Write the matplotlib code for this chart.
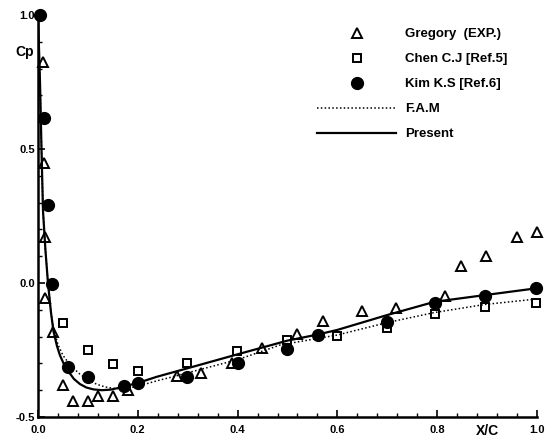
import matplotlib
matplotlib.use("Agg")
import matplotlib.pyplot as plt
from matplotlib.ticker import MultipleLocator

plt.rcParams['font.family'] = ['Liberation Sans', 'DejaVu Sans']

# Gregory (EXP.) - open triangles
greg_x = [0.01, 0.012, 0.014, 0.014, 0.031, 0.051, 0.071, 0.101, 0.121, 0.151, 0.181,
          0.278, 0.327, 0.389, 0.449, 0.519, 0.571, 0.65, 0.717, 0.816, 0.847, 0.898,
          0.96, 1.0]
greg_y = [0.825, 0.448, 0.172, -0.056, -0.182, -0.381, -0.439, -0.439, -0.42, -0.42,
          -0.399, -0.347, -0.335, -0.297, -0.244, -0.19, -0.14, -0.105, -0.092, -0.047,
          0.063, 0.101, 0.173, 0.191]

# Chen C.J - open squares
chen_x = [0.051, 0.101, 0.151, 0.201, 0.299, 0.399, 0.499, 0.60, 0.699, 0.795, 0.896, 0.998]
chen_y = [-0.15, -0.25, -0.302, -0.327, -0.298, -0.253, -0.213, -0.197, -0.169, -0.117,
          -0.088, -0.074]

# Kim K.S - filled circles
kim_x = [0.004, 0.012, 0.02, 0.0275, 0.061, 0.101, 0.173, 0.201, 0.299, 0.40, 0.499,
         0.561, 0.699, 0.795, 0.896, 0.998]
kim_y = [1.0, 0.616, 0.291, -0.005, -0.312, -0.35, -0.384, -0.374, -0.352, -0.297,
         -0.247, -0.194, -0.144, -0.076, -0.049, -0.02]

# F.A.M - dotted line
fam_x = [0.0, 0.004, 0.007, 0.01, 0.015, 0.02, 0.026, 0.031, 0.04, 0.05, 0.066, 0.084,
         0.1, 0.118, 0.135, 0.151, 0.168, 0.185, 0.21, 0.238, 0.27, 0.3, 0.4, 0.486, 0.6,
         0.699, 0.795, 0.896, 0.998]
fam_y = [1.0, 0.75, 0.5, 0.27, 0.12, 0.0, -0.11, -0.17, -0.23, -0.27, -0.31, -0.34,
         -0.362, -0.378, -0.388, -0.393, -0.394, -0.391, -0.38, -0.365, -0.35, -0.335,
         -0.286, -0.231, -0.194, -0.148, -0.11, -0.08, -0.06]

# Present - solid line
pre_x = [0.0, 0.004, 0.007, 0.01, 0.015, 0.02, 0.026, 0.031, 0.038, 0.044, 0.052, 0.061,
         0.072, 0.084, 0.097, 0.111, 0.128, 0.145, 0.158, 0.171, 0.185, 0.2, 0.238, 0.3,
         0.4, 0.5, 0.561, 0.6, 0.699, 0.795, 0.896, 0.998]
pre_y = [1.0, 0.75, 0.5, 0.27, 0.12, 0.0, -0.11, -0.18, -0.235, -0.27, -0.303, -0.33,
         -0.358, -0.377, -0.39, -0.397, -0.4, -0.398, -0.393, -0.387, -0.38, -0.373,
         -0.35, -0.318, -0.266, -0.215, -0.192, -0.175, -0.12, -0.07, -0.045, -0.02]

fig = plt.figure(figsize=(5.46, 4.41), dpi=100)
ax = fig.add_axes([38 / 546, 1 - 417 / 441, (537 - 38) / 546, (417 - 15) / 441])

ax.plot(greg_x, greg_y, linestyle='none', marker='^', markersize=6.5, markerfacecolor='white',
        markeredgecolor='black', markeredgewidth=1.4, label='Gregory  (EXP.)', clip_on=False)
ax.plot(chen_x, chen_y, linestyle='none', marker='s', markersize=6, markerfacecolor='white',
        markeredgecolor='black', markeredgewidth=1.4, label='Chen C.J [Ref.5]', clip_on=False)
ax.plot(kim_x, kim_y, linestyle='none', marker='o', markersize=8.5, color='black',
        label='Kim K.S [Ref.6]', clip_on=False)
ax.plot(fam_x, fam_y, color='black', linestyle=(0, (1, 1.5)), linewidth=1.1, label='F.A.M')
ax.plot(pre_x, pre_y, color='black', linestyle='-', linewidth=1.6, label='Present')

ax.set_xlim(0, 1.0)
ax.set_ylim(-0.5, 1.0)
ax.spines['top'].set_visible(False)
ax.spines['right'].set_visible(False)
ax.spines['left'].set_linewidth(1.8)
ax.spines['bottom'].set_linewidth(1.8)

ax.xaxis.set_major_locator(MultipleLocator(0.2))
ax.xaxis.set_minor_locator(MultipleLocator(0.04))
ax.yaxis.set_major_locator(MultipleLocator(0.5))
ax.yaxis.set_minor_locator(MultipleLocator(0.1))
ax.tick_params(which='major', direction='in', length=5, width=1.2, labelsize=8)
ax.tick_params(which='minor', direction='in', length=3, width=1.0)
ax.tick_params(axis='x', pad=6)
ax.tick_params(axis='y', pad=2)
ax.set_xticks([0.0, 0.2, 0.4, 0.6, 0.8, 1.0])
ax.set_xticklabels(['0.0', '0.2', '0.4', '0.6', '0.8', '1.0'], fontweight='bold')
ax.set_yticks([-0.5, 0.0, 0.5, 1.0])
ax.set_yticklabels(['-0.5', '0.0', '0.5', '1.0'], fontweight='bold')

fig.text(25 / 546, 1 - 52 / 441, 'Cp', fontsize=10, fontweight='bold', ha='center', va='center')
fig.text(487 / 546, 1 - 431 / 441, 'X/C', fontsize=10, fontweight='bold', ha='center', va='center')

ax.legend(loc='upper left', bbox_to_anchor=(317 / 546, 1 - 28 / 441),
          bbox_transform=fig.transFigure, frameon=False, numpoints=1,
          handlelength=6.0, handletextpad=0.7, labelspacing=0.97,
          borderpad=0, borderaxespad=0,
          prop={'size': 9.5, 'weight': 'bold'})

fig.savefig('out.png', dpi=100)
